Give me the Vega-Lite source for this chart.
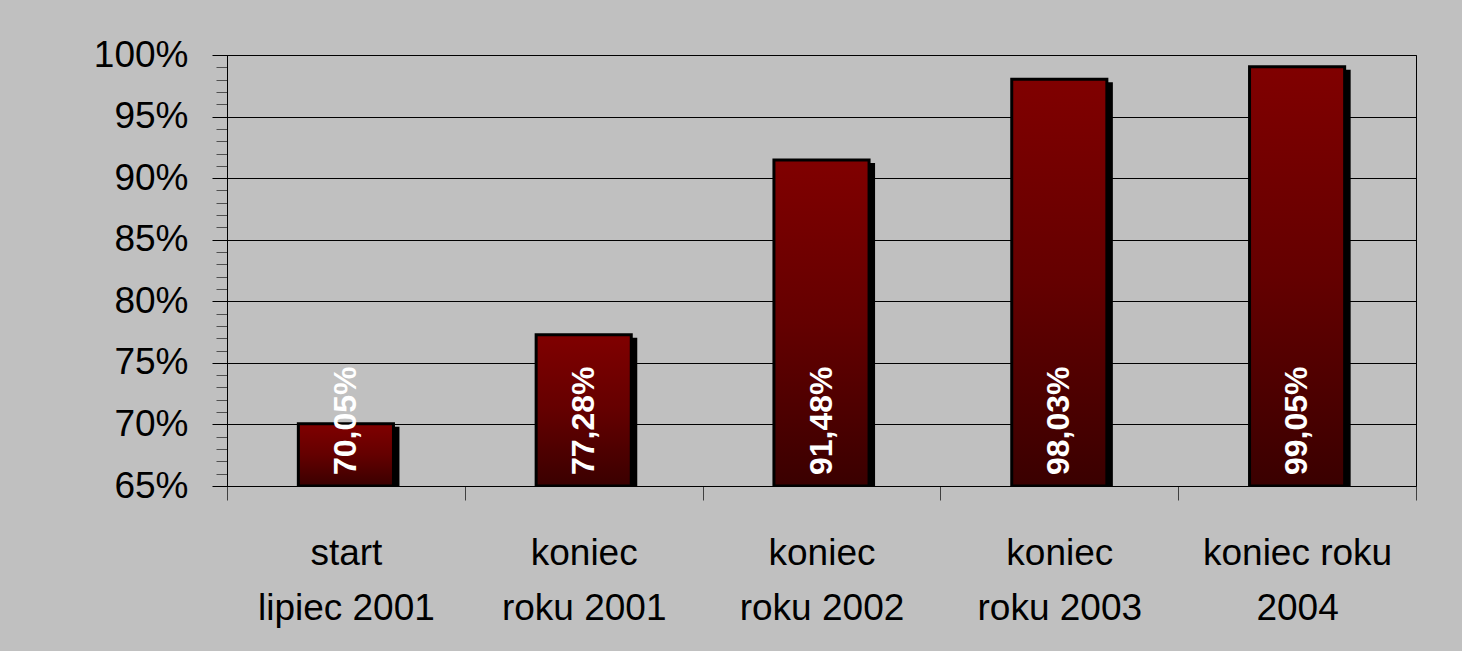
{
  "$schema": "https://vega.github.io/schema/vega-lite/v6.json",
  "width": 1189,
  "height": 431,
  "autosize": "none",
  "padding": {"left": 227, "top": 55, "right": 46, "bottom": 165},
  "background": "#c0c0c0",
  "config": {
    "view": {"stroke": "black", "strokeWidth": 1},
    "font": "Liberation Sans"
  },
  "data": {
    "values": [
      {"etap": "start\nlipiec 2001", "wartosc": 70.05, "etykieta": "70,05%"},
      {"etap": "koniec\nroku 2001", "wartosc": 77.28, "etykieta": "77,28%"},
      {"etap": "koniec\nroku 2002", "wartosc": 91.48, "etykieta": "91,48%"},
      {"etap": "koniec\nroku 2003", "wartosc": 98.03, "etykieta": "98,03%"},
      {"etap": "koniec roku\n2004", "wartosc": 99.05, "etykieta": "99,05%"}
    ]
  },
  "encoding": {
    "x": {
      "field": "etap",
      "type": "nominal",
      "sort": null,
      "title": null,
      "scale": {"paddingInner": 0, "paddingOuter": 0},
      "axis": {
        "tickBand": "extent",
        "tickSize": 14,
        "tickColor": "#404040",
        "domainColor": "black",
        "labelAngle": 0,
        "labelExpr": "split(datum.label, '\\n')",
        "labelFont": "Liberation Sans",
        "labelFontSize": 37,
        "labelLineHeight": 55,
        "labelColor": "black",
        "labelPadding": 35,
        "labelLimit": 300
      }
    }
  },
  "layer": [
    {
      "mark": {"type": "bar", "fill": "black", "xOffset": 6, "yOffset": 3, "clip": true, "width": {"band": 0.4}},
      "encoding": {
        "y": {
          "field": "wartosc",
          "type": "quantitative",
          "title": null,
          "scale": {"domain": [65, 100], "nice": false, "zero": false},
          "axis": {
            "values": [65, 66, 67, 68, 69, 70, 71, 72, 73, 74, 75, 76, 77, 78, 79, 80, 81, 82, 83, 84, 85, 86, 87, 88, 89, 90, 91, 92, 93, 94, 95, 96, 97, 98, 99, 100],
            "tickCount": 40,
            "tickSize": {"condition": {"test": "datum.value % 5 === 0", "value": 15}, "value": 11},
            "tickColor": {"condition": {"test": "datum.value % 5 === 0", "value": "black"}, "value": "#505050"},
            "grid": true,
            "gridColor": "black",
            "gridWidth": 1,
            "gridOpacity": {"condition": {"test": "datum.value % 5 === 0", "value": 1}, "value": 0},
            "domainColor": "black",
            "labelExpr": "datum.value % 5 === 0 ? datum.value + '%' : ''",
            "labelFont": "Liberation Sans",
            "labelFontSize": 37,
            "labelColor": "black",
            "labelPadding": 24,
            "labelOverlap": false
          }
        },
        "y2": {"datum": 65}
      }
    },
    {
      "mark": {
        "type": "bar",
        "stroke": "black",
        "strokeWidth": 3,
        "clip": true,
        "width": {"band": 0.4},
        "fill": {
          "gradient": "linear",
          "x1": 0, "y1": 0, "x2": 0, "y2": 1,
          "stops": [
            {"offset": 0, "color": "#800000"},
            {"offset": 0.5, "color": "#640000"},
            {"offset": 1, "color": "#3a0000"}
          ]
        }
      },
      "encoding": {
        "y": {"field": "wartosc", "type": "quantitative"},
        "y2": {"datum": 65}
      }
    },
    {
      "mark": {
        "type": "text",
        "angle": 270,
        "align": "left",
        "baseline": "middle",
        "dx": 11,
        "font": "Liberation Sans",
        "fontSize": 32,
        "fontWeight": "bold",
        "fill": "white"
      },
      "encoding": {
        "y": {"datum": 65},
        "text": {"field": "etykieta"}
      }
    }
  ]
}
